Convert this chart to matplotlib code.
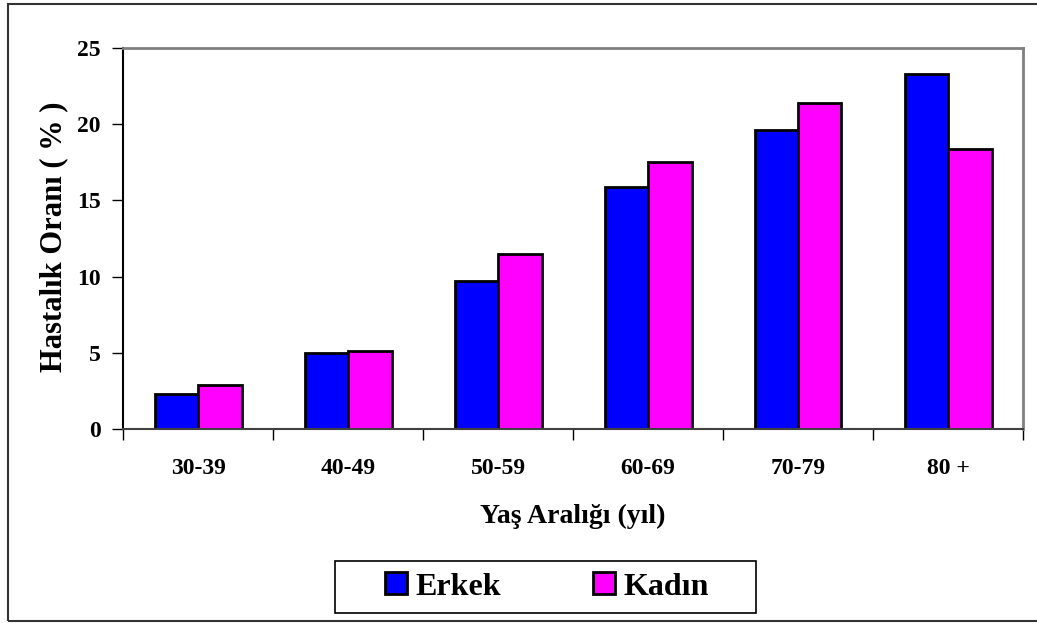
import numpy as np
import matplotlib
matplotlib.use('Agg')
from matplotlib import pyplot as plt
from matplotlib.patches import Rectangle

plt.rcParams['font.family'] = ['Liberation Serif', 'DejaVu Serif']
plt.rcParams['font.weight'] = 'bold'

categories = ['30-39', '40-49', '50-59', '60-69', '70-79', '80 +']
erkek = [2.3, 5.0, 9.7, 15.9, 19.6, 23.3]
kadin = [2.9, 5.1, 11.5, 17.5, 21.4, 18.4]

W, H = 1037, 623
fig = plt.figure(figsize=(W / 100, H / 100), dpi=100)
ax = fig.add_axes([123 / W, 1 - 429 / H, 900 / W, 381 / H])

x = np.arange(len(categories))
bw = 0.29
ax.bar(x - bw / 2, erkek, bw, color='#0000FF', edgecolor='black', linewidth=2, label='Erkek')
ax.bar(x + bw / 2, kadin, bw, color='#FF00FF', edgecolor='black', linewidth=2, label='Kadın')

ax.set_xlim(-0.5, len(categories) - 0.5)
ax.set_ylim(0, 25)
ax.set_yticks([0, 5, 10, 15, 20, 25])
ax.tick_params(axis='y', direction='out', length=8, width=1, pad=8, labelsize=17, colors='black')
ax.set_xticks(x)
ax.set_xticklabels(categories)
ax.tick_params(axis='x', which='major', length=0, pad=21, labelsize=17)
ax.set_xticks(np.arange(len(categories) + 1) - 0.5, minor=True)
ax.tick_params(axis='x', which='minor', direction='out', length=8, width=1)

ax.spines['left'].set_color('black')
ax.spines['left'].set_linewidth(1.5)
ax.spines['bottom'].set_color('#404040')
ax.spines['bottom'].set_linewidth(1.5)
for s in ['top', 'right']:
    ax.spines[s].set_color('#808080')
    ax.spines[s].set_linewidth(2)

fig.text(573 / W, 1 - 516 / H, 'Yaş Aralığı (yıl)', ha='center', va='center', fontsize=20, fontweight='bold')
fig.text(54 / W, 1 - 237 / H, 'Hastalık Oranı ( % )', ha='center', va='center', rotation=90, fontsize=22, fontweight='bold')

# legend box
fig.patches.append(Rectangle((335 / W, 1 - 613 / H), 421 / W, 52 / H, transform=fig.transFigure,
                             facecolor='white', edgecolor='black', linewidth=1.2))
handles, labels = ax.get_legend_handles_labels()
leg = fig.legend(handles, labels, loc='center', bbox_to_anchor=(547 / W, 1 - 587 / H), ncol=2,
                 frameon=False, handlelength=0.68, handleheight=0.68,
                 handletextpad=0.25, columnspacing=2.9, prop={'weight': 'bold', 'size': 23})

# outer frame
fig.patches.append(Rectangle((8 / W, 1 - 621 / H), 1040 / W, 617 / H, transform=fig.transFigure,
                             facecolor='none', edgecolor='#333333', linewidth=1.5))

fig.savefig('out.png', dpi=100)
